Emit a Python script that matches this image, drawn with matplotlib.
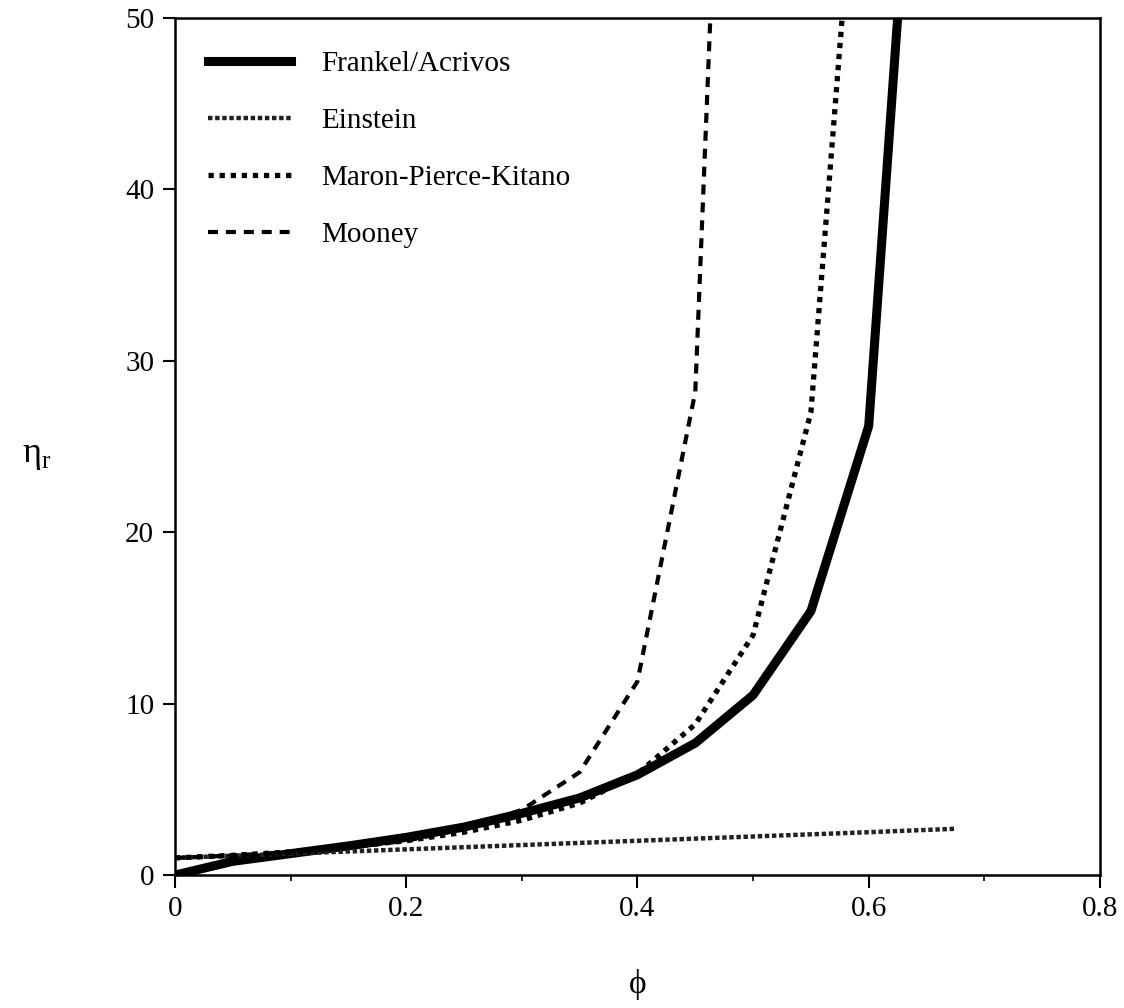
import numpy as np
import matplotlib
matplotlib.use("Agg")
import matplotlib.pyplot as plt

plt.rcParams['font.family'] = ['Liberation Serif', 'DejaVu Serif']
plt.rcParams['mathtext.fontset'] = 'custom'
plt.rcParams['mathtext.rm'] = 'Liberation Serif'

# volume fraction samples
phi = [0.0, 0.05, 0.1, 0.15, 0.2, 0.25, 0.3, 0.35, 0.4, 0.45, 0.5, 0.55, 0.6]

# Frankel/Acrivos
phi_fa = phi + [0.625]
eta_fa = [0.0, 0.8, 1.25, 1.7, 2.2, 2.8, 3.6, 4.5, 5.85, 7.7, 10.5, 15.4, 26.2, 50.0]

# Einstein
phi_ein = [0.0, 0.1, 0.2, 0.3, 0.4, 0.5, 0.6, 0.675]
eta_ein = [1.0, 1.25, 1.5, 1.75, 2.0, 2.25, 2.5, 2.7]

# Maron-Pierce-Kitano
phi_mpk = phi[:12] + [0.577]
eta_mpk = [1.0, 1.15, 1.35, 1.65, 2.0, 2.5, 3.2, 4.2, 5.9, 8.8, 14.0, 27.0, 50.0]

# Mooney
phi_moo = phi[:10] + [0.463]
eta_moo = [1.0, 1.14, 1.34, 1.6, 2.0, 2.7, 3.8, 6.0, 11.3, 28.2, 50.0]

labels = ['Frankel/Acrivos', 'Einstein', 'Maron-Pierce-Kitano', 'Mooney']

fig = plt.figure(figsize=(11.24, 10.08), dpi=100)
ax = fig.add_axes([0.1557, 0.1319, 0.8229, 0.8502])

ax.plot(phi_fa, eta_fa, color='black', lw=6.5, solid_joinstyle='miter', label=labels[0])
ax.plot(phi_ein, eta_ein, color='#222222', lw=3.2, linestyle=(0, (1, 0.6)), label=labels[1])
ax.plot(phi_mpk, eta_mpk, color='black', lw=3.8, linestyle=(0, (1, 1.1)), label=labels[2])
ax.plot(phi_moo, eta_moo, color='black', lw=3.0, linestyle=(0, (2.4, 1.9)), label=labels[3])

ax.set_xlim(0, 0.8)
ax.set_ylim(0, 50)
ax.set_xticks([0, 0.2, 0.4, 0.6, 0.8])
ax.set_xticklabels(['0', '0.2', '0.4', '0.6', '0.8'])
ax.set_xticks([0.1, 0.3, 0.5, 0.7], minor=True)
ax.set_yticks([0, 10, 20, 30, 40, 50])
ax.tick_params(axis='both', which='major', direction='out', length=9, width=1.5,
               labelsize=21, pad=6)
ax.tick_params(axis='x', which='minor', direction='out', length=4, width=1.2)
for s in ax.spines.values():
    s.set_linewidth(1.8)

ax.text(0.5, -0.128, 'ϕ', transform=ax.transAxes, ha='center', va='center', fontsize=24)
ax.text(-0.15, 0.49, 'η$_\\mathrm{r}$', transform=ax.transAxes, ha='center', va='center',
        fontsize=26)

leg = ax.legend(loc='upper left', bbox_to_anchor=(0.0, 1.0), frameon=False, fontsize=21,
                handlelength=2.85, handletextpad=1.05, labelspacing=1.05, borderaxespad=0.72)

fig.savefig('out.png', dpi=100)
